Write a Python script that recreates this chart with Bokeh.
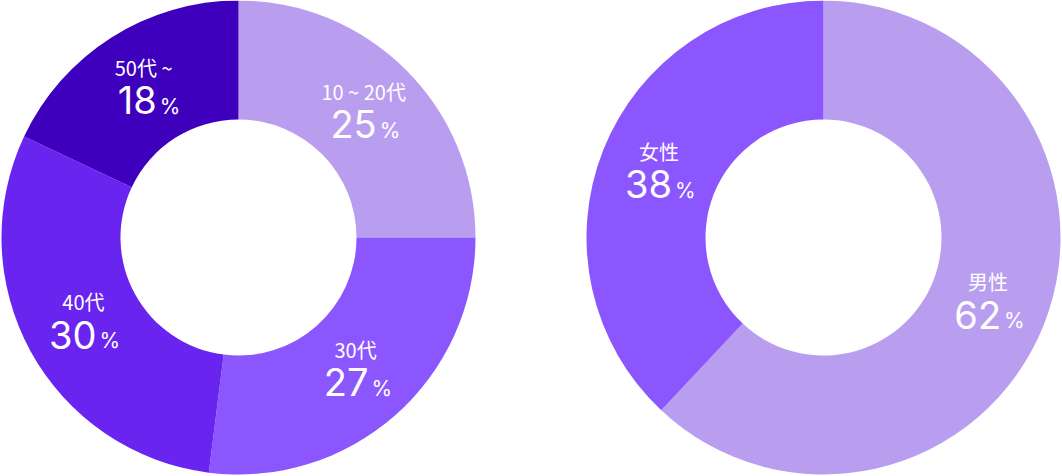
import numpy as np
from bokeh.plotting import figure
from bokeh.models import ColumnDataSource, Range1d
from bokeh.core.properties import value
from bokeh.embed import file_html
from bokeh.resources import INLINE

# ---- data ----
age_labels = ["10 ~ 20代", "30代", "40代", "50代 ~"]
age_values = [25, 27, 30, 18]
age_colors = ["#b99ef0", "#8c56ff", "#6924f0", "#3e00bd"]

sex_labels = ["男性", "女性"]
sex_values = [62, 38]
sex_colors = ["#b99ef0", "#8c56ff"]

W, H = 1062, 476
p = figure(width=W, height=H, output_backend="svg", toolbar_location=None,
           x_range=Range1d(0, W), y_range=Range1d(0, H), min_border=0)
p.axis.visible = False
p.grid.visible = False
p.outline_line_color = None
p.background_fill_color = "white"
p.styles = {"position": "absolute", "left": "0px", "top": "0px"}

R_OUT, R_IN, R_LAB = 237, 118, 177
CY = H - 237

def donut(cx, labels, values, colors):
    v = np.array(values, dtype=float)
    cum = np.concatenate([[0], np.cumsum(v)]) / v.sum()
    start = np.pi / 2 - 2 * np.pi * cum[:-1]
    end = np.pi / 2 - 2 * np.pi * cum[1:]
    mid = (start + end) / 2
    src = ColumnDataSource(dict(start=start, end=end, color=colors))
    p.annular_wedge(x=cx, y=CY, inner_radius=R_IN, outer_radius=R_OUT,
                    start_angle="start", end_angle="end", direction="clock",
                    fill_color="color", line_color=None, source=src)
    lx = cx + R_LAB * np.cos(mid)
    ly = CY + R_LAB * np.sin(mid)
    lsrc = ColumnDataSource(dict(
        x=lx, y=ly, lab=labels,
        num=[str(int(x)) for x in values], pct=["%"] * len(values)))
    p.text(x="x", y="y", text="lab", source=lsrc, y_offset=-21,
           text_align="center", text_baseline="middle", text_color="white",
           text_font=value("Noto Sans CJK JP"), text_font_size="20px")
    p.text(x="x", y="y", text="num", source=lsrc, x_offset=13, y_offset=12,
           text_align="right", text_baseline="middle", text_color="white",
           text_font=value("Inter"), text_font_size="38px")
    p.text(x="x", y="y", text="pct", source=lsrc, x_offset=16, y_offset=18,
           text_align="left", text_baseline="middle", text_color="white",
           text_font=value("Inter"), text_font_size="21px")

donut(238, age_labels, age_values, age_colors)
donut(823, sex_labels, sex_values, sex_colors)

open("out.html", "w").write(file_html(p, INLINE))
